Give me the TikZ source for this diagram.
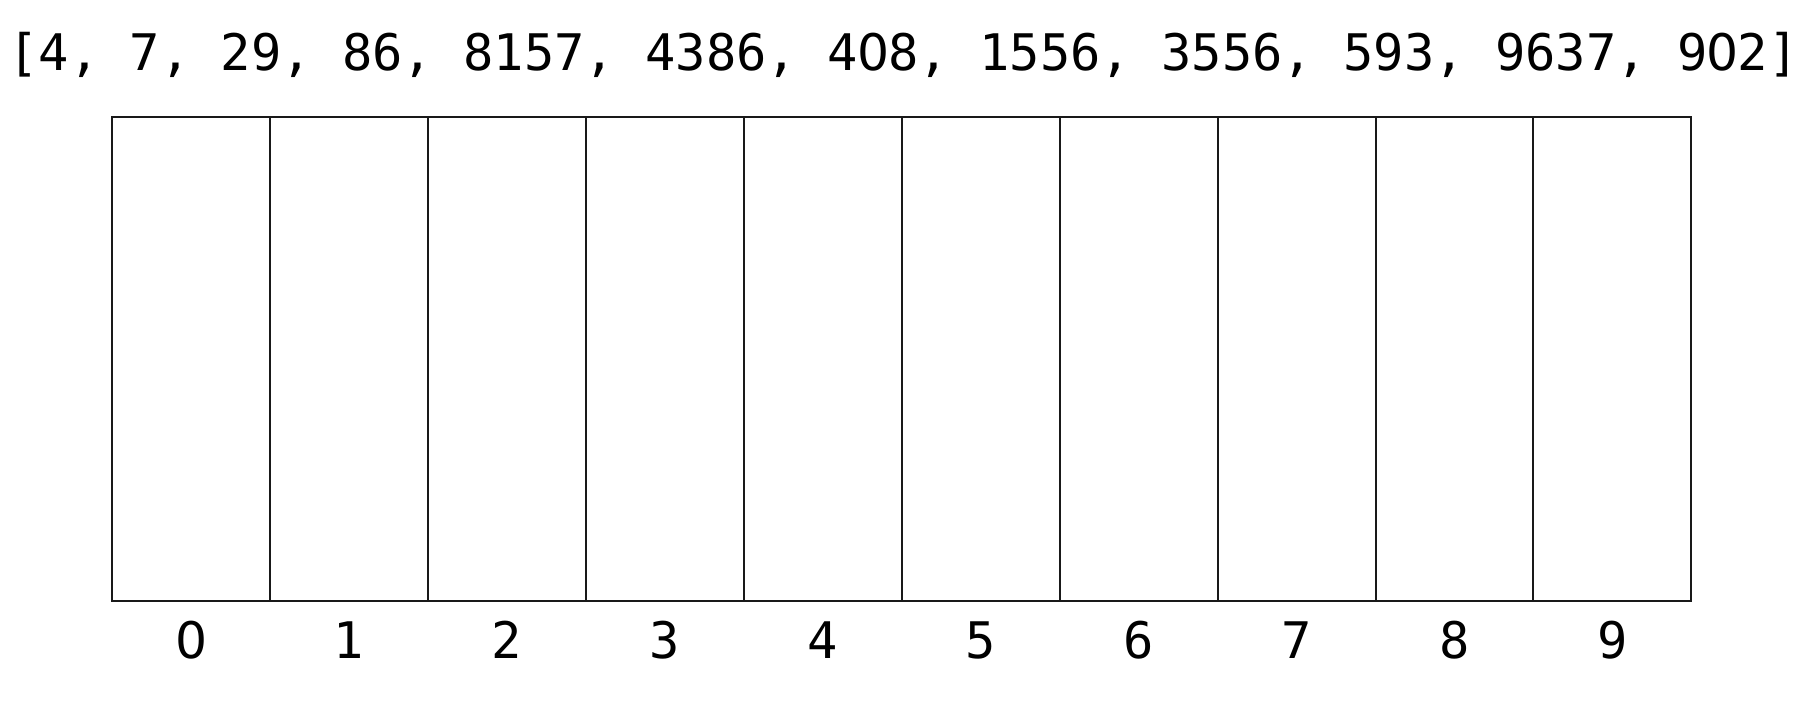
\documentclass[tikz,border=0pt]{standalone}
\usepackage{fontspec}
\setmonofont{DejaVu Sans Mono}
\newfontfamily\zerofont{DejaVu Sans}
\newcommand\zro{\makebox[0.602em][c]{\zerofont 0}}
\begin{document}
\begin{tikzpicture}[x=0.5pt,y=-0.5pt,
  cell/.style={draw=black!90,line width=1pt,minimum width=78.95pt,minimum height=242pt,inner sep=0pt,outer sep=0pt},
  lbl/.style={font=\ttfamily\fontsize{25.2}{30}\selectfont,anchor=base,inner sep=0pt}]
\fill[white] (0,0) rectangle (1820,708);
\useasboundingbox (0,0) rectangle (1820,708);
\node[lbl] (arr) at (903.5,70) {[4, 7, 29, 86, 8157, 4386, 4\zro8, 1556, 3556, 593, 9637, 9\zro2]};
\foreach \i/\t in {0/\zro,1/1,2/2,3/3,4/4,5/5,6/6,7/7,8/8,9/9} {
  \node[cell] (c\i) at ({112.3+157.9*(\i+0.5)},359) {};
  \node[lbl] (l\i) at ({112.3+157.9*(\i+0.5)},658) {\t};
}
\end{tikzpicture}
\end{document}
